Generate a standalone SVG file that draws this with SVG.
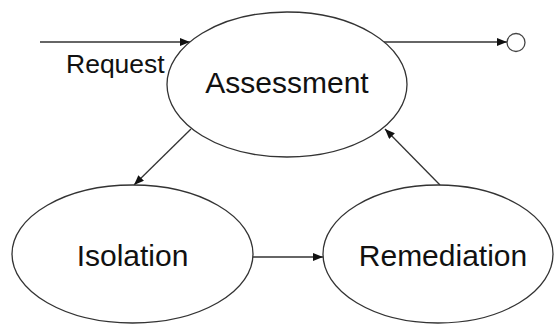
<svg xmlns="http://www.w3.org/2000/svg" width="554" height="324" viewBox="0 0 554 324">
<style>
.node{fill:#fff;stroke:#333;stroke-width:1.3}
.lbl{font-family:"Liberation Sans",Arial,sans-serif;font-size:30px;fill:#111;text-anchor:middle}
.edge{stroke:#333;stroke-width:1.3;fill:none;marker-end:url(#ah)}
</style>
<defs>
<marker id="ah" viewBox="0 0 10 8" refX="10" refY="4" markerWidth="10" markerHeight="8" markerUnits="userSpaceOnUse" orient="auto">
<path d="M0,0 L10,4 L0,8 Z" fill="#111"/>
</marker>
</defs>
<g id="connectors">
<line class="edge" x1="40" y1="42" x2="190" y2="42"/>
<line class="edge" x1="384" y1="42" x2="507" y2="42"/>
<line class="edge" x1="191" y1="129" x2="134" y2="185"/>
<line class="edge" x1="440" y1="185" x2="385" y2="129"/>
<line class="edge" x1="253" y1="257" x2="323" y2="257"/>
<text x="66" y="73" style="font-family:'Liberation Sans',Arial,sans-serif;font-size:26.5px;fill:#111">Request</text>
</g>
<g id="assessment">
<ellipse class="node" cx="287" cy="84.5" rx="120" ry="72.5"/>
<text class="lbl" x="287" y="93">Assessment</text>
</g>
<g id="isolation">
<ellipse class="node" cx="132.5" cy="254" rx="120.5" ry="69"/>
<text class="lbl" x="132.5" y="266">Isolation</text>
</g>
<g id="remediation">
<ellipse class="node" cx="438" cy="254" rx="115" ry="69"/>
<text class="lbl" x="443" y="266">Remediation</text>
</g>
<g id="end">
<circle cx="516" cy="42.5" r="9" fill="#fff" stroke="#444" stroke-width="1.3"/>
</g>
</svg>
